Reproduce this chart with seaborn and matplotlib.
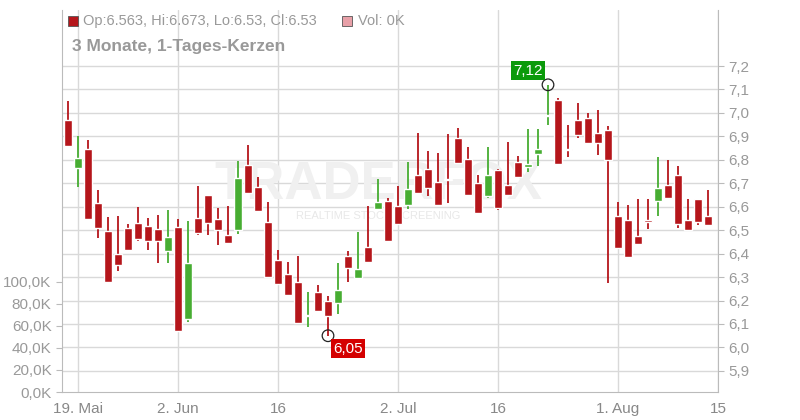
import numpy as np
import pandas as pd
import seaborn as sns
import matplotlib.pyplot as plt
from matplotlib.patches import Rectangle

# Daily candles
dates = pd.bdate_range("2025-05-16", periods=65)
opens = [6.97, 6.765, 6.846, 6.616, 6.497, 6.399, 6.509, 6.531, 6.518, 6.505,
         6.411, 6.514, 6.122, 6.552, 6.650, 6.548, 6.480, 6.501, 6.778, 6.684,
         6.535, 6.373, 6.313, 6.279, 6.134, 6.237, 6.198, 6.190, 6.390, 6.296,
         6.428, 6.590, 6.625, 6.603, 6.608, 6.735, 6.761, 6.706, 6.716, 6.893,
         6.804, 6.701, 6.646, 6.757, 6.693, 6.791, 6.769, 6.825, 6.985, 7.055,
         6.843, 6.970, 6.978, 6.914, 6.927, 6.561, 6.544, 6.475, 6.541, 6.625,
         6.693, 6.735, 6.544, 6.633, 6.561]
highs = [7.05, 6.902, 6.885, 6.671, 6.556, 6.561, 6.527, 6.599, 6.552, 6.565,
         6.586, 6.548, 6.539, 6.689, 6.650, 6.595, 6.603, 6.795, 6.863, 6.727,
         6.620, 6.416, 6.365, 6.390, 6.237, 6.267, 6.220, 6.360, 6.411, 6.492,
         6.603, 6.718, 6.637, 6.689, 6.791, 6.914, 6.838, 6.829, 6.910, 6.936,
         6.855, 6.735, 6.855, 6.761, 6.876, 6.816, 6.931, 6.931, 7.12, 7.064,
         6.949, 7.042, 7.000, 7.012, 6.944, 6.620, 6.607, 6.633, 6.633, 6.812,
         6.799, 6.774, 6.633, 6.633, 6.671]
lows = [6.86, 6.684, 6.548, 6.467, 6.279, 6.326, 6.416, 6.454, 6.416, 6.360,
        6.360, 6.070, 6.109, 6.480, 6.480, 6.437, 6.446, 6.484, 6.659, 6.582,
        6.301, 6.271, 6.224, 6.105, 6.087, 6.156, 6.05, 6.143, 6.279, 6.296,
        6.365, 6.586, 6.454, 6.522, 6.590, 6.659, 6.646, 6.608, 6.616, 6.787,
        6.650, 6.573, 6.637, 6.586, 6.650, 6.727, 6.748, 6.774, 6.949, 6.782,
        6.812, 6.893, 6.872, 6.821, 6.275, 6.424, 6.386, 6.441, 6.505, 6.561,
        6.637, 6.509, 6.501, 6.522, 6.522]
closes = [6.86, 6.808, 6.548, 6.509, 6.279, 6.352, 6.416, 6.463, 6.454, 6.454,
          6.471, 6.070, 6.360, 6.488, 6.531, 6.501, 6.446, 6.723, 6.659, 6.582,
          6.301, 6.271, 6.224, 6.105, 6.136, 6.156, 6.134, 6.245, 6.339, 6.335,
          6.365, 6.620, 6.454, 6.527, 6.676, 6.659, 6.680, 6.608, 6.712, 6.787,
          6.650, 6.573, 6.735, 6.595, 6.650, 6.727, 6.782, 6.846, 6.988, 6.782,
          6.840, 6.906, 6.872, 6.872, 6.799, 6.424, 6.386, 6.441, 6.537, 6.680,
          6.637, 6.527, 6.501, 6.535, 6.522]

price_ticks = [5.9, 6.0, 6.1, 6.2, 6.3, 6.4, 6.5, 6.6, 6.7, 6.8, 6.9, 7.0, 7.1, 7.2]
vol_ticks = [0, 20000, 40000, 60000, 80000, 100000]
date_ticks = ["2025-05-19", "2025-06-02", "2025-06-16", "2025-07-02",
              "2025-07-16", "2025-08-01", "2025-08-15"]
date_labels = ["19. Mai", "2. Jun", "16", "2. Jul", "16", "1. Aug", "15"]

df = pd.DataFrame({"date": dates, "open": opens, "high": highs,
                   "low": lows, "close": closes})
df["x"] = np.arange(len(df))
df["up"] = df["close"] >= df["open"]

RED = "#b5161b"
GREEN = "#47ad32"
GRID = "#d9d9d9"
TXT = "#999999"

sns.set_style("white")
plt.rcParams["font.family"] = ["Liberation Sans", "DejaVu Sans"]

fig = plt.figure(figsize=(8, 4.2), dpi=100)
ax = fig.add_axes([62 / 800, 28 / 420, 656 / 800, 382 / 420])

# volume axis on the left (no volume); created first so twinx doesn't move price ticks
axv = ax.twinx()

colors = np.where(df["up"], GREEN, RED)
ax.vlines(df["x"], df["low"], df["high"], colors=colors, lw=1.3, zorder=3)
bottom = np.minimum(df["open"], df["close"])
height = np.maximum(np.abs(df["close"] - df["open"]), 0.006)
ax.bar(df["x"], height, bottom=bottom, width=0.72, color=colors, zorder=4)

# x positions for tick dates (last one lies one day past the data)
all_days = pd.bdate_range("2025-05-16", "2025-08-20")
xt = [all_days.get_loc(pd.Timestamp(d)) for d in date_ticks]

ax.set_xlim(-0.6, 65.0)
ax.set_ylim(5.81, 7.439)
ax.set_xticks(xt)
ax.set_xticklabels(date_labels)
ax.yaxis.tick_right()
ax.yaxis.set_label_position("right")
ax.set_yticks(price_ticks)
ax.set_yticklabels([f"{t:.1f}".replace(".", ",") for t in price_ticks])
ax.grid(True, color=GRID, lw=1)
ax.tick_params(axis="both", labelsize=11, colors=TXT, length=4, color="#bbbbbb")
ax.tick_params(axis="x", labelcolor="#888888")
for s in ax.spines.values():
    s.set_color("#bbbbbb")
ax.spines["top"].set_visible(False)

axv.yaxis.tick_left()
axv.set_ylim(0, 347000)
axv.set_yticks(vol_ticks)
axv.set_yticklabels([f"{v / 1000:.1f}K".replace(".", ",") for v in vol_ticks])
axv.tick_params(axis="y", labelsize=11, colors=TXT, length=4, color="#bbbbbb")
axv.grid(False)
for s in axv.spines.values():
    s.set_visible(False)

# watermark
ax.text(31, 6.69, "TRADERFOX", fontsize=38, fontweight="bold", color="#f0f0f0",
        ha="center", va="center", zorder=1)
ax.text(31, 6.56, "REALTIME STOCK SCREENING", fontsize=8, color="#e8e8e8",
        ha="center", va="center", zorder=1)

# high / low markers
i_hi = int(np.argmax(highs))
i_lo = int(np.argmin(lows))
mk = pd.DataFrame({"x": [i_hi, i_lo], "y": [highs[i_hi], lows[i_lo]]})
sns.scatterplot(data=mk, x="x", y="y", ax=ax, s=70, facecolor="none",
                edgecolor="#222222", linewidth=0.9, zorder=6, legend=False)
ax.set_xlabel("")
ax.set_ylabel("")
ax.text(i_hi - 2, highs[i_hi] + 0.06, f"{highs[i_hi]:.2f}".replace(".", ","),
        color="white", fontsize=11, ha="center", va="center", zorder=7,
        bbox=dict(boxstyle="square,pad=0.15", fc="#0a9a0a", ec="none"))
ax.text(i_lo + 2, lows[i_lo] - 0.055, f"{lows[i_lo]:.2f}".replace(".", ","),
        color="white", fontsize=11, ha="center", va="center", zorder=7,
        bbox=dict(boxstyle="square,pad=0.15", fc="#d40000", ec="none"))

# header
fig.text(72 / 800, 1 - 47 / 420, "3 Monate, 1-Tages-Kerzen", fontsize=12.5,
         fontweight="bold", color="#999999", va="center")
fig.patches.append(Rectangle((68 / 800, 1 - 26 / 420), 10 / 800, 10 / 420,
                             transform=fig.transFigure, fc=RED, ec="#555555", lw=0.6))
fig.text(83 / 800, 1 - 21 / 420, "Op:6.563, Hi:6.673, Lo:6.53, Cl:6.53",
         fontsize=10.5, color=TXT, va="center")
fig.patches.append(Rectangle((342 / 800, 1 - 26 / 420), 10 / 800, 10 / 420,
                             transform=fig.transFigure, fc="#e8a0a8", ec="#555555", lw=0.6))
fig.text(358 / 800, 1 - 21 / 420, "Vol: 0K", fontsize=10.5, color=TXT, va="center")

fig.savefig("out.png", dpi=100)
